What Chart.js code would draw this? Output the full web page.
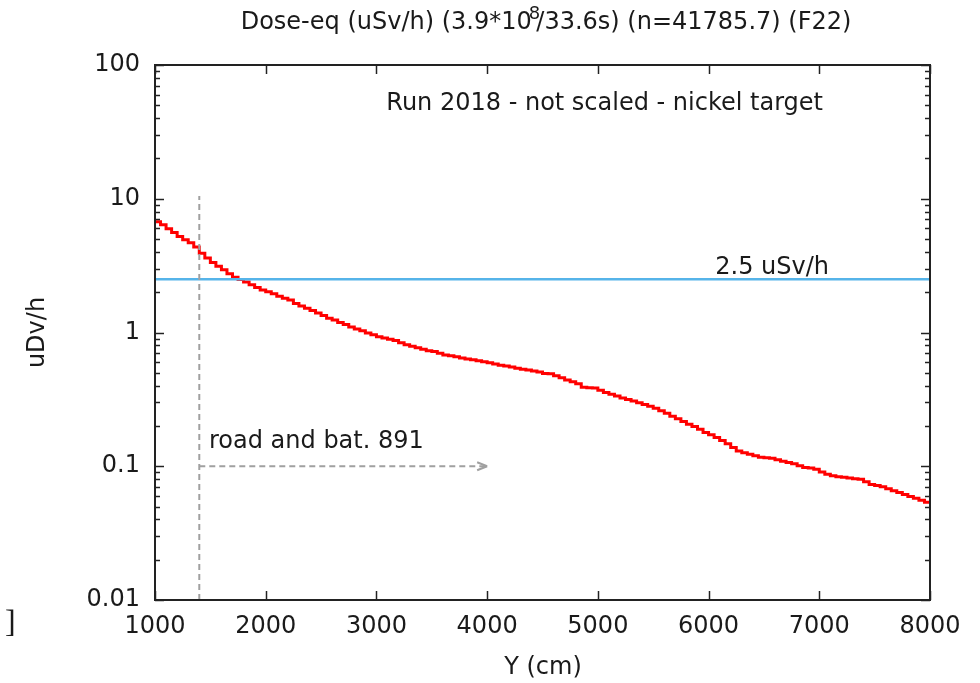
<!DOCTYPE html>
<html>
<head>
<meta charset="utf-8">
<script src="https://cdn.jsdelivr.net/npm/chart.js@4.4.0/dist/chart.umd.min.js"></script>
<style>
  html, body { margin: 0; padding: 0; background: #fff; }
  #wrap { width: 980px; height: 683px; }
</style>
</head>
<body>
<div id="wrap"><canvas id="doseChart" width="980" height="683"></canvas></div>
<script>
// bin start positions (cm), 50 cm bins
const binStarts = [
  1000, 1050, 1100, 1150, 1200, 1250, 1300, 1350, 1400, 1450,
  1500, 1550, 1600, 1650, 1700, 1750, 1800, 1850, 1900, 1950,
  2000, 2050, 2100, 2150, 2200, 2250, 2300, 2350, 2400, 2450,
  2500, 2550, 2600, 2650, 2700, 2750, 2800, 2850, 2900, 2950,
  3000, 3050, 3100, 3150, 3200, 3250, 3300, 3350, 3400, 3450,
  3500, 3550, 3600, 3650, 3700, 3750, 3800, 3850, 3900, 3950,
  4000, 4050, 4100, 4150, 4200, 4250, 4300, 4350, 4400, 4450,
  4500, 4550, 4600, 4650, 4700, 4750, 4800, 4850, 4900, 4950,
  5000, 5050, 5100, 5150, 5200, 5250, 5300, 5350, 5400, 5450,
  5500, 5550, 5600, 5650, 5700, 5750, 5800, 5850, 5900, 5950,
  6000, 6050, 6100, 6150, 6200, 6250, 6300, 6350, 6400, 6450,
  6500, 6550, 6600, 6650, 6700, 6750, 6800, 6850, 6900, 6950,
  7000, 7050, 7100, 7150, 7200, 7250, 7300, 7350, 7400, 7450,
  7500, 7550, 7600, 7650, 7700, 7750, 7800, 7850, 7900, 7950
]
const binEnd = 8000

// dose-eq per bin (uSv/h)
const doseValues = [
  6.73, 6.40, 5.97, 5.60, 5.22, 4.93, 4.69, 4.36, 3.91, 3.61,
  3.33, 3.13, 2.95, 2.75, 2.59, 2.49, 2.39, 2.28, 2.17, 2.08,
  2.02, 1.95, 1.87, 1.80, 1.75, 1.65, 1.58, 1.52, 1.46, 1.40,
  1.34, 1.28, 1.24, 1.19, 1.15, 1.10, 1.06, 1.03, 0.99, 0.96,
  0.93, 0.91, 0.89, 0.87, 0.84, 0.81, 0.79, 0.77, 0.75, 0.73,
  0.72, 0.70, 0.68, 0.67, 0.66, 0.645, 0.635, 0.625, 0.615, 0.605,
  0.593, 0.581, 0.570, 0.561, 0.551, 0.541, 0.532, 0.525, 0.515, 0.506,
  0.494, 0.491, 0.475, 0.458, 0.441, 0.428, 0.413, 0.390, 0.386, 0.385,
  0.370, 0.356, 0.346, 0.335, 0.324, 0.315, 0.308, 0.299, 0.290, 0.281,
  0.271, 0.260, 0.249, 0.237, 0.227, 0.216, 0.206, 0.198, 0.189, 0.179,
  0.172, 0.164, 0.156, 0.147, 0.138, 0.130, 0.126, 0.123, 0.120, 0.117,
  0.116, 0.115, 0.112, 0.109, 0.1065, 0.1045, 0.1007, 0.098, 0.0969, 0.0949,
  0.0904, 0.0873, 0.0850, 0.0835, 0.0826, 0.0816, 0.0807, 0.0798, 0.0765, 0.0731,
  0.0717, 0.0703, 0.0679, 0.0655, 0.0637, 0.0614, 0.0594, 0.0577, 0.0556, 0.0537
]

const limitValue = 2.5
const roadX = 1400
const roadArrowEnd = 4000
const roadArrowY = 0.1
const roadLineTop = 10.5

const xTicks = [1000, 2000, 3000, 4000, 5000, 6000, 7000, 8000]
const yTicks = [0.01, 0.1, 1, 10, 100]
const yTickLabels = ['0.01', '0.1', '1', '10', '100']

const titleParts = ['Dose-eq (uSv/h) (3.9*10', '8', '/33.6s) (n=41785.7) (F22)']
const runLabel = 'Run 2018 - not scaled - nickel target'
const limitLabel = '2.5 uSv/h'
const roadLabel = 'road and bat. 891'
const xTitle = 'Y (cm)'
const yTitle = 'uDv/h'

const FONT = '"DejaVu Sans", sans-serif'
const TEXT = '#1a1a1a'

// histogram points, last bin closed at binEnd
const histPoints = binStarts.map((x, i) => ({ x: x, y: doseValues[i] }))
histPoints.push({ x: binEnd, y: doseValues[doseValues.length - 1] })

const decorations = {
  id: 'decorations',
  afterDatasetsDraw(chart) {
    const { ctx, chartArea: a, scales: { x, y } } = chart
    ctx.save()

    const line = (x1, y1, x2, y2) => {
      ctx.beginPath(); ctx.moveTo(x1, y1); ctx.lineTo(x2, y2); ctx.stroke()
    }

    // arrowhead of the road line
    ctx.strokeStyle = '#a0a0a0'
    ctx.lineWidth = 2
    ctx.setLineDash([])
    const tipX = x.getPixelForValue(roadArrowEnd)
    const tipY = y.getPixelForValue(roadArrowY)
    line(tipX, tipY, tipX - 10, tipY - 4)
    line(tipX, tipY, tipX - 10, tipY + 4)

    // frame
    ctx.strokeStyle = '#222'
    ctx.lineWidth = 2
    ctx.strokeRect(a.left, a.top, a.right - a.left, a.bottom - a.top)

    // x ticks, mirrored
    ctx.lineWidth = 1.5
    xTicks.forEach(v => {
      const px = Math.round(x.getPixelForValue(v)) + 0.5
      line(px, a.bottom, px, a.bottom - 9)
      line(px, a.top, px, a.top + 9)
    })
    // y ticks, log minors
    yTicks.forEach((d, i) => {
      const py = Math.round(y.getPixelForValue(d)) + 0.5
      line(a.left, py, a.left + 9, py)
      line(a.right, py, a.right - 9, py)
      if (i < yTicks.length - 1) {
        for (let m = 2; m <= 9; m++) {
          const pm = Math.round(y.getPixelForValue(d * m)) + 0.5
          line(a.left, pm, a.left + 5, pm)
          line(a.right, pm, a.right - 5, pm)
        }
      }
    })

    // texts
    ctx.fillStyle = TEXT
    ctx.font = '24px ' + FONT
    ctx.textBaseline = 'middle'

    // title with superscript
    const w0 = ctx.measureText(titleParts[0]).width
    ctx.font = '18px ' + FONT
    const w1 = ctx.measureText(titleParts[1]).width
    ctx.font = '24px ' + FONT
    const w2 = ctx.measureText(titleParts[2]).width
    const tx = 546 - (w0 + w1 * 0.4 + w2) / 2
    ctx.textAlign = 'left'
    ctx.fillText(titleParts[0], tx, 23)
    ctx.font = '18px ' + FONT
    ctx.fillText(titleParts[1], tx + w0 - 3, 14)
    ctx.font = '24px ' + FONT
    ctx.fillText(titleParts[2], tx + w0 + w1 * 0.4, 23)

    ctx.textAlign = 'right'
    ctx.fillText(runLabel, 823, 104)
    ctx.fillText(limitLabel, 829, 268)
    ctx.textAlign = 'left'
    ctx.fillText(roadLabel, 209, 442)

    ctx.textAlign = 'center'
    ctx.fillText(xTitle, 543, 668)
    ctx.save()
    ctx.translate(38, (a.top + a.bottom) / 2)
    ctx.rotate(-Math.PI / 2)
    ctx.fillText(yTitle, 0, 0)
    ctx.restore()

    ctx.font = '32px "Liberation Serif", serif'
    ctx.textAlign = 'left'
    ctx.fillText(']', 5, 624)

    ctx.restore()
  }
}

const ctx = document.getElementById('doseChart').getContext('2d')

new Chart(ctx, {
  type: 'line',
  data: {
    datasets: [
      {
        data: [{ x: roadX, y: 0.01 }, { x: roadX, y: roadLineTop }],
        borderColor: '#a0a0a0',
        borderWidth: 2,
        borderDash: [6, 4],
        pointRadius: 0
      },
      {
        data: [{ x: roadX, y: roadArrowY }, { x: roadArrowEnd, y: roadArrowY }],
        borderColor: '#a0a0a0',
        borderWidth: 2,
        borderDash: [6, 4],
        pointRadius: 0
      },
      {
        data: [{ x: binStarts[0], y: limitValue }, { x: binEnd, y: limitValue }],
        borderColor: '#56b4e9',
        borderWidth: 2.5,
        pointRadius: 0
      },
      {
        data: histPoints,
        borderColor: '#ff0000',
        borderWidth: 3,
        stepped: 'before',
        pointRadius: 0
      }
    ]
  },
  options: {
    responsive: false,
    animation: false,
    layout: { padding: { top: 65, right: 50, left: 0, bottom: 0 } },
    plugins: {
      legend: { display: false },
      title: { display: false },
      tooltip: { enabled: false }
    },
    scales: {
      x: {
        type: 'linear',
        min: 1000,
        max: 8000,
        grid: { display: false },
        border: { display: false },
        afterBuildTicks: s => { s.ticks = xTicks.map(v => ({ value: v })) },
        afterFit: s => { s.height = 83 },
        ticks: {
          padding: 4,
          color: TEXT,
          font: { family: FONT, size: 24 },
          maxRotation: 0,
          callback: v => String(v)
        }
      },
      y: {
        type: 'logarithmic',
        min: 0.01,
        max: 100,
        grid: { display: false },
        border: { display: false },
        afterBuildTicks: s => { s.ticks = yTicks.map(v => ({ value: v })) },
        afterFit: s => { s.width = 155 },
        ticks: {
          padding: 7,
          color: TEXT,
          font: { family: FONT, size: 24 },
          callback: v => yTickLabels[yTicks.indexOf(v)]
        }
      }
    }
  },
  plugins: [decorations]
})
</script>
</body>
</html>
